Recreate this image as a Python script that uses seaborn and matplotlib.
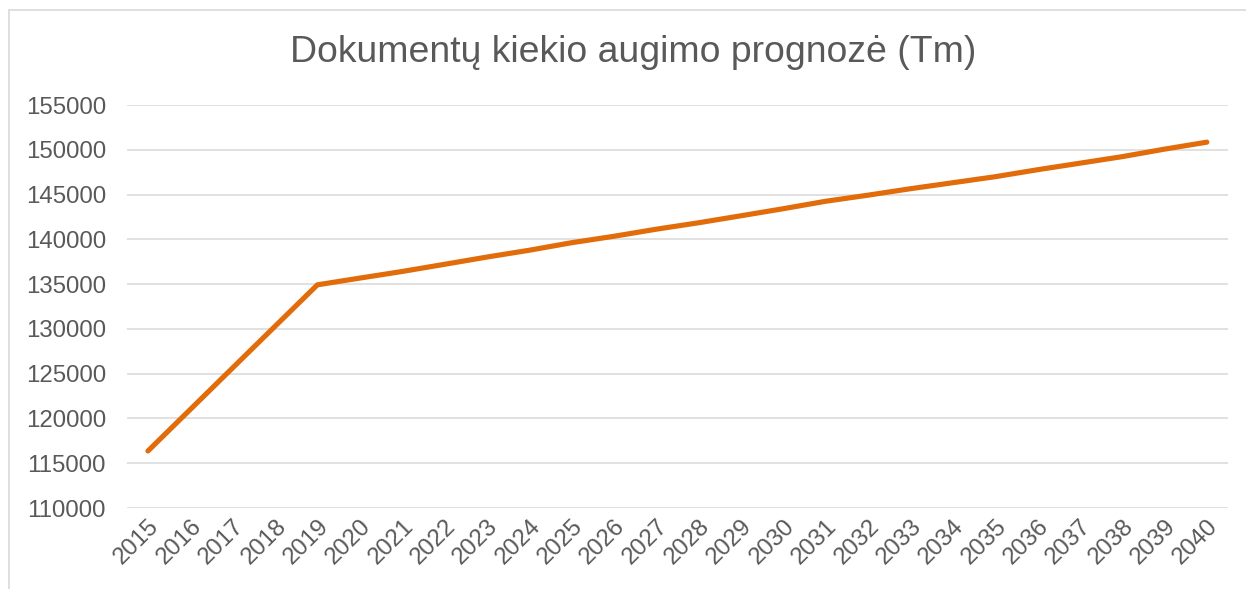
import matplotlib
matplotlib.use("Agg")
import matplotlib.pyplot as plt
import seaborn as sns
import pandas as pd
from matplotlib.lines import Line2D

years = list(range(2015, 2041))
values = [116370, 121010, 125650, 130290, 134920, 135670, 136410, 137210,
          138020, 138780, 139620, 140340, 141130, 141850, 142630, 143420,
          144250, 144930, 145650, 146320, 146990, 147770, 148500, 149230,
          150070, 150850]
y_ticks = [110000, 115000, 120000, 125000, 130000, 135000, 140000, 145000,
           150000, 155000]
title = "Dokumentų kiekio augimo prognozė (Tm)"

sns.set_theme(style="white")
plt.rcParams['font.family'] = ['Liberation Sans', 'DejaVu Sans']

df = pd.DataFrame({"pos": range(len(years)), "value": values})

fig = plt.figure(figsize=(12.46, 5.89), dpi=100)
ax = fig.add_axes([126.8 / 1246, 1 - 508 / 589, (1228 - 126.8) / 1246, (508 - 105) / 589])

sns.lineplot(data=df, x="pos", y="value", ax=ax, color="#E26B0A", linewidth=3.7,
             solid_capstyle="round", solid_joinstyle="round")

ax.set_xlim(-0.5, len(years) - 0.5)
ax.set_ylim(y_ticks[0], y_ticks[-1])
ax.set_yticks(y_ticks)
ax.set_yticklabels([str(v) for v in y_ticks])
ax.set_xticks(range(len(years)))
ax.set_xticklabels([str(y) for y in years], rotation=45, ha="right",
                   rotation_mode="anchor")
ax.tick_params(axis="both", labelsize=17.3, labelcolor="#595959", length=0)
ax.tick_params(axis="y", pad=15)
ax.tick_params(axis="x", pad=5)
ax.set_xlabel("")
ax.set_ylabel("")
ax.grid(axis="y", color="#D9D9D9", linewidth=1.1)
ax.set_axisbelow(True)
for s in ax.spines.values():
    s.set_visible(False)

fig.text(633 / 1246, 1 - 52 / 589, title, ha="center", va="center",
         fontsize=26.9, color="#595959")

# chart area border (left and top)
fig.add_artist(Line2D([8.5 / 1246, 8.5 / 1246], [0, 1 - 9.5 / 589],
                      transform=fig.transFigure, color="#D9D9D9", linewidth=1.2))
fig.add_artist(Line2D([8.5 / 1246, 1], [1 - 9.5 / 589, 1 - 9.5 / 589],
                      transform=fig.transFigure, color="#D9D9D9", linewidth=1.2))

fig.savefig("out.png", dpi=100)
